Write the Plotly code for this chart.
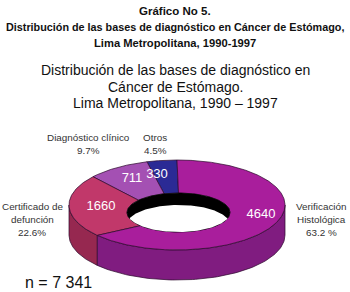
import numpy as np
import plotly.graph_objects as go

# ---------------- data ----------------
categories = ["Otros", "Diagnóstico clínico", "Certificado de defunción", "Verificación Histológica"]
values = [330, 711, 1660, 4640]
pct_labels = ["4.5%", "9.7%", "22.6%", "63.2 %"]
cat_lines = [["Otros"], ["Diagnóstico clínico"], ["Certificado de", "defunción"], ["Verificación", "Histológica"]]
n_label = "n = 7 341"
title_lines = ["Gráfico No 5.",
               "Distribución de las bases de diagnóstico en Cáncer de Estómago,",
               "Lima Metropolitana, 1990-1997"]
subtitle_lines = ["Distribución de las bases de diagnóstico en",
                  "Cáncer de Estómago.",
                  "Lima Metropolitana, 1990 – 1997"]

# ---------------- style / layout ----------------
top_colors = ["#2B2A95", "#A450B3", "#C1386A", "#A91E9C"]
side_colors = ["#1E1E70", "#7E3A8A", "#962850", "#801C80"]
edge = "rgba(45,10,45,0.9)"
CX, CY, RX, RY = 177, 205, 108, 45
DEPTH = 30
ICX, ICY, IRX, IRY = 178.5, 212.5, 51.5, 19.5
HOLE_DEPTH = 12
START = 90.0
value_pos = [(157, 175), (132, 179), (101, 207), (261, 215)]
outer_label_pos = [(155, 137), (88, 137), (32, 206), (321, 206)]
LINE_H = 13
FONT = "Liberation Sans, Arial, Helvetica, sans-serif"


def ell(cx, cy, rx, ry, a_deg):
    a = np.radians(a_deg)
    return cx + rx * np.cos(a), cy - ry * np.sin(a)


total = sum(values)
angles = [START]
for v in values:
    angles.append(angles[-1] + 360.0 * v / total)

fig = go.Figure()

# side walls (front half visible)
for i in range(len(values)):
    a1, a2 = angles[i], angles[i + 1]
    for lo, hi in [(180, 360), (540, 720)]:
        s, e = max(a1, lo), min(a2, hi)
        if e <= s:
            continue
        t = np.linspace(s, e, 80)
        xo, yo = ell(CX, CY, RX, RY, t)
        xs = np.concatenate([xo, xo[::-1], xo[:1]])
        ys = np.concatenate([yo, yo[::-1] + DEPTH, yo[:1]])
        fig.add_trace(go.Scatter(x=xs, y=ys, fill="toself", fillcolor=side_colors[i],
                                 line=dict(color=edge, width=0.8), mode="lines",
                                 hoverinfo="skip", showlegend=False))

# top faces
for i in range(len(values)):
    a1, a2 = angles[i], angles[i + 1]
    t = np.linspace(a1, a2, max(20, int((a2 - a1) * 1.5)))
    xo, yo = ell(CX, CY, RX, RY, t)
    xi, yi = ell(ICX, ICY, IRX, IRY, t[::-1])
    xs = np.concatenate([xo, xi, xo[:1]])
    ys = np.concatenate([yo, yi, yo[:1]])
    fig.add_trace(go.Scatter(x=xs, y=ys, fill="toself", fillcolor=top_colors[i],
                             line=dict(color=edge, width=0.8), mode="lines",
                             name=categories[i], hoverinfo="name", showlegend=False))

# hole: inner wall (black) and see-through (white)
t = np.linspace(0, 360, 200)
xh, yh = ell(ICX, ICY, IRX, IRY, t)
fig.add_trace(go.Scatter(x=xh, y=yh, fill="toself", fillcolor="black",
                         line=dict(color="black", width=0.5), mode="lines",
                         hoverinfo="skip", showlegend=False))
th0 = np.degrees(np.arcsin(HOLE_DEPTH / (2 * IRY)))
tb = np.linspace(th0, 180 - th0, 100)
xb, yb = ell(ICX, ICY + HOLE_DEPTH, IRX, IRY, tb)
ta = np.linspace(180 + th0, 360 - th0, 100)
xa, ya = ell(ICX, ICY, IRX, IRY, ta)
fig.add_trace(go.Scatter(x=np.concatenate([xb, xa]), y=np.concatenate([yb, ya]),
                         fill="toself", fillcolor="white", line=dict(color="white", width=0),
                         mode="lines", hoverinfo="skip", showlegend=False))

# values on slices
fig.add_trace(go.Scatter(x=[p[0] for p in value_pos], y=[p[1] for p in value_pos],
                         text=[str(v) for v in values], mode="text",
                         textfont=dict(family=FONT, size=13, color="white"),
                         hoverinfo="skip", showlegend=False))

annotations = []
for i in range(len(values)):
    x0, y0 = outer_label_pos[i]
    lines = cat_lines[i] + [pct_labels[i]]
    for k, ln in enumerate(lines):
        annotations.append(dict(x=x0, y=y0 + k * LINE_H, xref="x", yref="y", text=ln,
                                showarrow=False, xanchor="center", yanchor="middle",
                                font=dict(family=FONT, size=9.9, color="#333333")))

for ln, yy, sz in zip(title_lines, [11, 27, 43], [11.5, 10.8, 11.2]):
    annotations.append(dict(x=175, y=yy, xref="x", yref="y", text="<b>" + ln + "</b>",
                            showarrow=False, xanchor="center", yanchor="middle",
                            font=dict(family=FONT, size=sz, color="#111111")))
for ln, yy in zip(subtitle_lines, [70, 87, 103]):
    annotations.append(dict(x=175, y=yy, xref="x", yref="y", text=ln,
                            showarrow=False, xanchor="center", yanchor="middle",
                            font=dict(family=FONT, size=14, color="#111111")))
annotations.append(dict(x=23, y=282, xref="x", yref="y", text=n_label, showarrow=False,
                        xanchor="left", yanchor="middle",
                        font=dict(family=FONT, size=16, color="#111111")))

fig.update_layout(
    width=350, height=292, margin=dict(l=0, r=0, t=0, b=0),
    paper_bgcolor="white", plot_bgcolor="white",
    xaxis=dict(range=[0, 350], visible=False, fixedrange=True),
    yaxis=dict(range=[292, 0], visible=False, fixedrange=True),
    annotations=annotations,
)

fig.write_html("out.html", config={"displayModeBar": False},
               post_script="document.body.style.margin='0';document.body.style.overflow='hidden';")
